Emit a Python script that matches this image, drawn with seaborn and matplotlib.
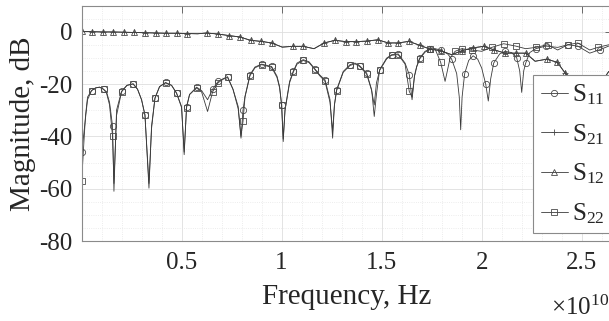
import matplotlib
matplotlib.use('Agg')
import matplotlib.pyplot as plt
import numpy as np
import pandas as pd
import seaborn as sns
from matplotlib.ticker import MultipleLocator, FuncFormatter

SCALE = 1e10  # frequencies below are given in units of 1e10 Hz

# S11 (reflection, port 1)
s11_freq = [0.001, 0.010, 0.017, 0.030, 0.050, 0.070, 0.090, 0.110, 0.125, 0.140,
            0.155, 0.162, 0.175, 0.200, 0.227, 0.258, 0.280, 0.300, 0.317, 0.337,
            0.350, 0.367, 0.390, 0.420, 0.450, 0.475, 0.500, 0.513, 0.525, 0.540,
            0.575, 0.600, 0.630, 0.655, 0.683, 0.707, 0.730, 0.757, 0.783, 0.797,
            0.807, 0.817, 0.842, 0.867, 0.900, 0.950, 0.977, 0.990, 1.000, 1.008,
            1.017, 1.025, 1.040, 1.058, 1.077, 1.108, 1.137, 1.167, 1.190, 1.217,
            1.242, 1.255, 1.264, 1.275, 1.308, 1.342, 1.367, 1.390, 1.425, 1.450,
            1.463, 1.474, 1.490, 1.525, 1.550, 1.583, 1.617, 1.638, 1.652, 1.664,
            1.675, 1.690, 1.717, 1.742, 1.767, 1.795, 1.830, 1.850, 1.875, 1.888,
            1.895, 1.902, 1.915, 1.935, 1.957, 1.980, 2.000, 2.020, 2.033, 2.045,
            2.060, 2.090, 2.117, 2.150, 2.175, 2.190, 2.200, 2.210, 2.220, 2.240,
            2.270, 2.320, 2.380, 2.430, 2.480, 2.540, 2.590, 2.635]
s11_db = [-46.0, -40.0, -35.0, -26.0, -22.5, -21.5, -21.2, -22.0, -23.0, -27.0,
          -36.0, -61.0, -30.0, -22.8, -20.5, -19.9, -22.0, -26.0, -31.7, -59.8,
          -36.0, -25.4, -21.0, -19.4, -20.5, -23.5, -28.6, -47.0, -28.6, -24.0,
          -21.2, -22.5, -26.0, -22.0, -19.0, -18.0, -17.2, -22.0, -28.6, -40.7,
          -30.0, -24.7, -16.4, -13.5, -12.4, -13.3, -17.0, -21.0, -28.0, -42.0,
          -30.0, -26.0, -19.0, -15.2, -12.0, -10.7, -11.5, -14.3, -16.5, -18.4,
          -26.0, -40.7, -28.0, -22.2, -15.2, -12.6, -12.0, -13.0, -15.8, -22.2,
          -32.4, -24.0, -14.5, -10.1, -8.8, -8.5, -12.0, -16.4, -26.0, -17.0,
          -13.3, -10.1, -7.5, -6.6, -6.5, -7.0, -8.5, -10.5, -16.0, -25.0,
          -37.5, -25.0, -16.0, -11.0, -9.2, -10.5, -13.9, -20.0, -26.5, -18.0,
          -12.0, -8.5, -7.5, -8.0, -10.0, -15.0, -23.2, -15.0, -12.0, -8.0,
          -6.5, -5.5, -6.0, -5.0, -5.5, -8.2, -6.9, -5.5]

# S22 (reflection, port 2)
s22_freq = [0.001, 0.006, 0.012, 0.020, 0.030, 0.050, 0.070, 0.090, 0.110, 0.125,
            0.140, 0.155, 0.162, 0.175, 0.200, 0.227, 0.258, 0.280, 0.300, 0.317,
            0.337, 0.350, 0.367, 0.390, 0.420, 0.450, 0.475, 0.500, 0.513, 0.525,
            0.540, 0.575, 0.600, 0.630, 0.655, 0.683, 0.707, 0.730, 0.757, 0.783,
            0.797, 0.807, 0.817, 0.842, 0.867, 0.900, 0.950, 0.977, 0.990, 1.000,
            1.008, 1.017, 1.025, 1.040, 1.058, 1.077, 1.108, 1.137, 1.167, 1.190,
            1.217, 1.242, 1.255, 1.264, 1.275, 1.308, 1.342, 1.367, 1.390, 1.425,
            1.450, 1.463, 1.474, 1.490, 1.525, 1.550, 1.583, 1.617, 1.638, 1.652,
            1.664, 1.675, 1.690, 1.717, 1.742, 1.767, 1.795, 1.817, 1.842, 1.867,
            1.900, 1.950, 2.000, 2.050, 2.110, 2.170, 2.220, 2.270, 2.330, 2.380,
            2.430, 2.480, 2.540, 2.580, 2.635]
s22_db = [-57.0, -50.0, -42.0, -32.0, -25.0, -22.5, -21.5, -21.2, -22.0, -23.5,
          -28.0, -40.0, -58.0, -32.0, -23.0, -20.5, -20.0, -22.0, -26.0, -32.0,
          -58.0, -37.0, -25.4, -21.0, -19.6, -20.5, -23.5, -29.0, -46.0, -29.0,
          -24.0, -21.5, -23.0, -30.5, -23.0, -19.5, -18.2, -17.5, -22.0, -29.5,
          -40.0, -34.3, -25.0, -16.8, -13.8, -12.6, -13.6, -17.5, -21.5, -28.0,
          -41.0, -30.0, -26.5, -19.5, -15.5, -12.4, -11.0, -11.8, -14.5, -16.8,
          -19.0, -27.0, -38.0, -28.0, -22.5, -15.5, -12.9, -12.3, -13.3, -16.2,
          -22.5, -28.0, -19.6, -14.8, -10.4, -9.0, -8.8, -12.4, -22.8, -25.0,
          -17.0, -13.5, -10.4, -7.8, -6.8, -6.6, -11.7, -19.0, -10.1, -7.5,
          -6.5, -7.0, -7.5, -6.0, -4.6, -5.5, -6.5, -6.0, -5.0, -7.0,
          -5.0, -4.3, -7.0, -6.0, -5.0]

# S21 / S12 (transmission)
s21_freq = [0.000, 0.053, 0.105, 0.158, 0.210, 0.264, 0.317, 0.370, 0.422, 0.475,
            0.528, 0.580, 0.625, 0.683, 0.738, 0.790, 0.845, 0.897, 0.950, 1.003,
            1.055, 1.108, 1.162, 1.213, 1.267, 1.320, 1.372, 1.425, 1.480, 1.533,
            1.583, 1.636, 1.690, 1.740, 1.795, 1.850, 1.900, 1.955, 2.010, 2.060,
            2.117, 2.170, 2.220, 2.267, 2.325, 2.378, 2.417, 2.470, 2.520, 2.570,
            2.607, 2.635]
s21_db = [0.1, 0.0, -0.1, -0.1, -0.2, -0.3, -0.4, -0.5, -0.6, -0.6,
          -0.7, -0.8, -0.5, -0.9, -1.5, -2.0, -3.3, -3.7, -4.3, -5.9,
          -5.6, -5.6, -6.5, -4.3, -3.3, -3.8, -3.8, -3.6, -3.1, -4.3,
          -4.3, -3.7, -5.2, -6.6, -7.3, -8.8, -7.3, -6.2, -5.6, -6.9,
          -8.2, -8.2, -8.2, -11.3, -10.5, -11.7, -15.8, -20.0, -22.0, -21.0,
          -18.4, -15.2]
s12_freq = [0.000, 0.053, 0.105, 0.158, 0.210, 0.264, 0.317, 0.370, 0.422, 0.475,
            0.528, 0.580, 0.625, 0.683, 0.738, 0.790, 0.845, 0.897, 0.950, 1.003,
            1.055, 1.108, 1.162, 1.213, 1.267, 1.320, 1.372, 1.425, 1.480, 1.533,
            1.583, 1.636, 1.690, 1.740, 1.795, 1.850, 1.900, 1.955, 2.010, 2.060,
            2.117, 2.170, 2.220, 2.267, 2.325, 2.378, 2.417, 2.470, 2.520, 2.570,
            2.607, 2.635]
s12_db = [0.1, 0.0, -0.1, -0.1, -0.2, -0.3, -0.4, -0.5, -0.6, -0.6,
          -0.7, -0.8, -0.5, -0.9, -1.5, -2.0, -3.3, -3.7, -4.3, -5.9,
          -5.6, -5.6, -6.5, -4.3, -3.3, -3.8, -3.8, -3.6, -3.1, -4.3,
          -4.3, -3.7, -5.2, -6.6, -7.3, -8.8, -7.3, -6.2, -5.6, -6.9,
          -8.2, -8.2, -8.2, -11.3, -10.5, -11.7, -15.8, -20.0, -22.0, -21.0,
          -18.4, -15.2]

labels = ['$\\mathrm{S_{11}}$', '$\\mathrm{S_{21}}$', '$\\mathrm{S_{12}}$', '$\\mathrm{S_{22}}$']
markers = ['o', '+', '^', 's']


def marker_indices(freq, db, step=0.053):
    # markers at roughly even frequency steps, never on the bottom of a null
    freq = np.asarray(freq)
    db = np.asarray(db)
    lows = np.r_[False, (db[1:-1] < db[:-2]) & (db[1:-1] < db[2:]), False]
    ok = np.flatnonzero(~lows)
    picks = {int(ok[np.argmin(np.abs(freq[ok] - g))]) for g in np.arange(freq[0], freq[-1] + 1e-9, step)}
    return sorted(picks)


def main():
    sns.set_style('whitegrid')
    plt.rcParams['font.family'] = ['Liberation Serif', 'DejaVu Serif']
    plt.rcParams['mathtext.fontset'] = 'custom'
    plt.rcParams['mathtext.rm'] = 'Liberation Serif'
    plt.rcParams['mathtext.it'] = 'Liberation Serif:italic'
    plt.rcParams['axes.unicode_minus'] = False

    fig = plt.figure(figsize=(6.09, 3.21), dpi=100)
    ax = fig.add_axes([0.1342, 0.2492, 0.8703, 0.7336])

    series = [(s11_freq, s11_db), (s21_freq, s21_db), (s12_freq, s12_db), (s22_freq, s22_db)]
    sizes = [4.5, 4.5, 4.5, 4.0]
    for (freq, db), label, mk, ms in zip(series, labels, markers, sizes):
        df = pd.DataFrame({'Frequency': np.asarray(freq) * SCALE, 'Magnitude': db})
        sns.lineplot(x='Frequency', y='Magnitude', data=df, ax=ax, sort=False, estimator=None,
                     color='#3a3a3a', linewidth=0.6, marker=mk, markersize=ms,
                     markerfacecolor='none', markeredgecolor='#4a4a4a', markeredgewidth=0.6,
                     markevery=marker_indices(freq, db), label=label)

    ax.set_xlim(0.001 * SCALE, 2.65 * SCALE)
    ax.set_ylim(-80, 10)
    ax.xaxis.set_major_locator(MultipleLocator(0.5 * SCALE))
    ax.xaxis.set_minor_locator(MultipleLocator(0.1 * SCALE))
    ax.xaxis.set_major_formatter(FuncFormatter(lambda v, p: '%g' % (v / SCALE)))
    ax.yaxis.set_major_locator(MultipleLocator(20))
    ax.yaxis.set_minor_locator(MultipleLocator(5))

    ax.grid(which='major', color='#dedede', linewidth=0.6, linestyle='-')
    ax.grid(which='minor', color='#e6e6e6', linewidth=0.6, linestyle=':')
    ax.set_axisbelow(True)
    for spine in ax.spines.values():
        spine.set_color('#8a8a8a')
        spine.set_linewidth(0.8)
    ax.tick_params(which='major', direction='in', length=5, width=0.6, color='#555555',
                   top=True, right=True, labelsize=18, labelcolor='#262626')
    ax.tick_params(axis='x', pad=8)
    ax.tick_params(axis='y', pad=7)
    ax.tick_params(which='minor', length=0)

    ax.set_xlabel('Frequency, Hz', fontsize=21, color='#262626', labelpad=7)
    ax.set_ylabel('Magnitude, dB', fontsize=21, color='#262626', labelpad=2)
    fig.text(1.0, 0.019, '$\\times\\mathrm{10^{10}}$', fontsize=18, color='#262626',
             ha='right', va='baseline')

    leg = ax.legend(loc='upper left', bbox_to_anchor=(533 / 609, 1 - 75 / 321),
                    bbox_transform=fig.transFigure, fontsize=18, frameon=True, fancybox=False,
                    framealpha=1, edgecolor='#8a8a8a', borderpad=0.3, labelspacing=0.6,
                    handlelength=1.1, handletextpad=0.15, borderaxespad=0)
    leg.get_frame().set_linewidth(0.8)

    fig.savefig('out.png', dpi=100)


if __name__ == "__main__":
    main()
